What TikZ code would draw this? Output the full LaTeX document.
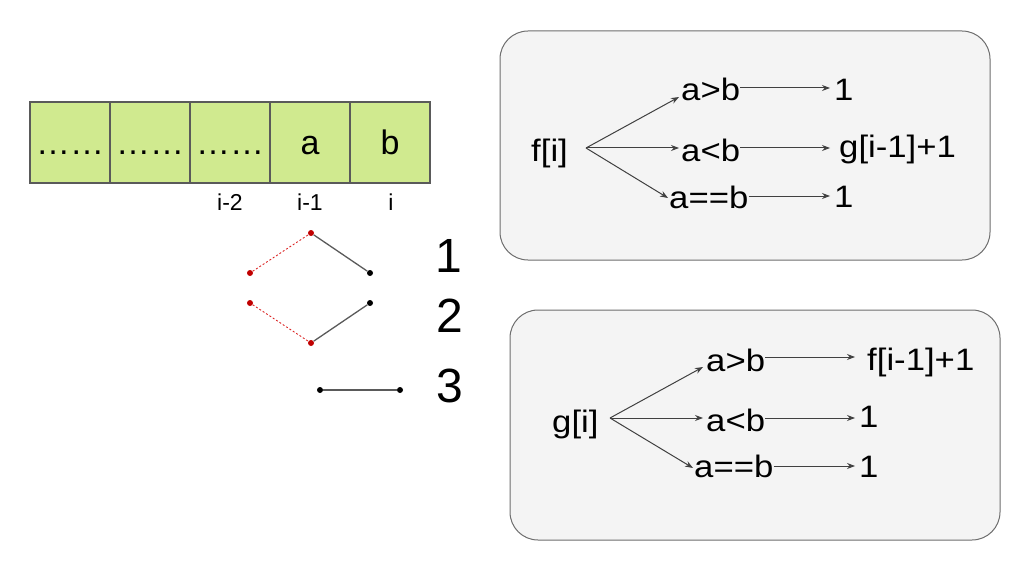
\documentclass[tikz,border=0pt]{standalone}
\usepackage{fontspec}
\setmainfont{Liberation Sans}
\newfontfamily\boxfont[FakeStretch=1.12]{Liberation Sans}
\usetikzlibrary{arrows.meta}
\definecolor{cellfill}{RGB}{208,234,143}
\definecolor{cellline}{RGB}{90,90,90}
\definecolor{panelfill}{RGB}{244,244,244}
\definecolor{panelline}{RGB}{110,110,110}
\definecolor{dotred}{RGB}{192,0,0}
\definecolor{dashred}{RGB}{220,40,40}
\definecolor{linegray}{RGB}{90,90,90}
\definecolor{arrowgray}{RGB}{64,64,64}
\begin{document}
\begin{tikzpicture}[x=1pt,y=-1pt,
  cellbox/.style={draw=cellline, fill=cellfill, line width=1.2pt, minimum width=80pt,
    minimum height=81pt, inner sep=0pt, text height=25pt, text depth=0pt,
    font=\fontsize{34}{40}\selectfont},
  idxlabel/.style={inner sep=0pt, anchor=base, font=\fontsize{23}{28}\selectfont},
  bignum/.style={inner sep=0pt, anchor=base, font=\fontsize{48}{56}\selectfont},
  reddot/.style={circle, fill=dotred, minimum size=6pt, inner sep=0pt},
  blackdot/.style={circle, fill=black, minimum size=6pt, inner sep=0pt},
  reddash/.style={draw=dashred, line width=0.9pt, dash pattern=on 2pt off 2pt},
  grayline/.style={draw=linegray, line width=1.3pt},
  panel/.style={draw=panelline, fill=panelfill, line width=1pt, rounded corners=28pt,
    inner sep=0pt},
  btext/.style={inner sep=0pt, anchor=base west, font=\boxfont\fontsize{31}{37}\selectfont},
  arr/.style={draw=arrowgray, line width=1pt, -{Stealth[length=8pt,width=6pt]}}
]
\useasboundingbox (0,0) rectangle (1032,572);

% array cells
\node[cellbox] (c1) at (70,142.5) {……};
\node[cellbox] (c2) at (150,142.5) {……};
\node[cellbox] (c3) at (230,142.5) {……};
\node[cellbox] (c4) at (310,142.5) {a};
\node[cellbox] (c5) at (390,142.5) {b};

\node[idxlabel] (l3) at (230,210) {i-2};
\node[idxlabel] (l4) at (310,210) {i-1};
\node[idxlabel] (l5) at (391,210) {i};

% dot diagram
\node[reddot] (rt) at (311,233) {};
\node[reddot] (rl1) at (250,273) {};
\node[blackdot] (br1) at (370,273) {};
\node[reddot] (rl2) at (250,303) {};
\node[blackdot] (br2) at (370,303) {};
\node[reddot] (rb) at (311,343) {};
\node[blackdot] (b3l) at (320,390) {};
\node[blackdot] (b3r) at (400,390) {};

\draw[reddash] (rl1) -- (rt);
\draw[grayline] (rt) -- (br1);
\draw[reddash] (rl2) -- (rb);
\draw[grayline] (rb) -- (br2);
\draw[grayline] (b3l) -- (b3r);

\node[bignum] (n1) at (449,272) {1};
\node[bignum] (n2) at (450,332) {2};
\node[bignum] (n3) at (450,402) {3};

% top panel
\node[panel, minimum width=490pt, minimum height=229pt] (p1) at (745,145.5) {};
\node[btext] (fi) at (531,161) {f[i]};
\coordinate (fsrc) at (586,148);
\node[btext] (fgt) at (681,101) {a>b};
\node[btext] (flt) at (681,161) {a<b};
\node[btext] (feq) at (669,208) {a==b};
\node[btext] (fo1) at (834,101) {1};
\node[btext] (fg) at (839,158) {g[i-1]+1};
\node[btext] (fo3) at (834,207) {1};

\draw[arr] (fsrc) -- ([xshift=-2pt,yshift=4pt]fgt.base west);
\draw[arr] (fsrc) -- ([xshift=-2pt]flt.west |- fsrc);
\draw[arr] (fsrc) -- ([xshift=-1pt,yshift=10pt]feq.base west);
\draw[arr] ([yshift=13pt]fgt.base east) -- ([yshift=13pt,xshift=-4pt]fgt.base east -| fo1.base west);
\draw[arr] ([yshift=13pt]flt.base east) -- ([yshift=13pt,xshift=-9pt]flt.base east -| fg.base west);
\draw[arr] ([yshift=12pt]feq.base east) -- ([yshift=12pt,xshift=-4pt]feq.base east -| fo3.base west);

% bottom panel
\node[panel, minimum width=490pt, minimum height=230pt] (p2) at (755,425) {};
\node[btext] (gi) at (552,432) {g[i]};
\coordinate (gsrc) at (610,418);
\node[btext] (ggt) at (706,371) {a>b};
\node[btext] (glt) at (706,431) {a<b};
\node[btext] (geq) at (694,477) {a==b};
\node[btext] (gf) at (867,370) {f[i-1]+1};
\node[btext] (go2) at (859,427) {1};
\node[btext] (go3) at (859,477) {1};

\draw[arr] (gsrc) -- ([xshift=-3pt,yshift=4pt]ggt.base west);
\draw[arr] (gsrc) -- ([xshift=-3pt]glt.west |- gsrc);
\draw[arr] (gsrc) -- ([xshift=-1pt,yshift=9pt]geq.base west);
\draw[arr] ([yshift=14pt]ggt.base east) -- ([yshift=14pt,xshift=-12pt]ggt.base east -| gf.base west);
\draw[arr] ([yshift=13pt]glt.base east) -- ([yshift=13pt,xshift=-4pt]glt.base east -| go2.base west);
\draw[arr] ([yshift=11pt]geq.base east) -- ([yshift=11pt,xshift=-4pt]geq.base east -| go3.base west);
\end{tikzpicture}
\end{document}
